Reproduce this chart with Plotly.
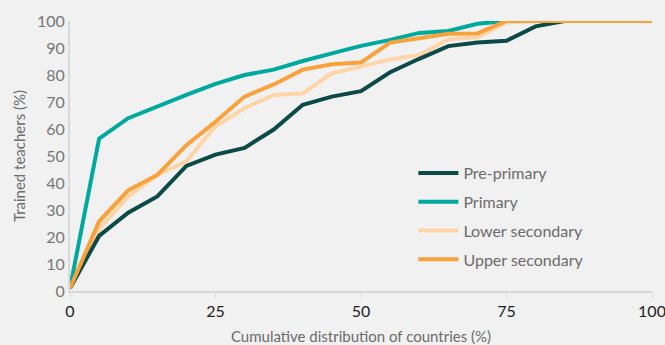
import plotly.graph_objects as go

x_vals = [0, 5, 10, 15, 20, 25, 30, 35, 40, 45, 50, 55, 60, 65, 70, 75, 80, 85, 90, 95, 100]

pre_primary = [1, 20.4, 29, 35, 46.3, 50.5, 53, 59.8, 69, 72, 74, 81, 86, 90.7, 92, 92.7, 98, 100, 100, 100, 100]
primary = [1, 56.4, 64, 68.5, 72.6, 76.7, 80, 82, 85.2, 88, 90.8, 93, 95.6, 96.3, 99, 100, 100, 100, 100, 100, 100]
lower_secondary = [1, 23, 35, 43, 48, 61, 67.7, 72.6, 73.2, 80.6, 83.1, 85.8, 87.4, 93.2, 94, 99.5, 100, 100, 100, 100, 100]
upper_secondary = [1, 25.8, 37.3, 43, 54, 62.7, 72, 76.5, 82, 84, 84.6, 92, 93.6, 95.3, 95.4, 100, 100, 100, 100, 100, 100]

series_names = ["Pre-primary", "Primary", "Lower secondary", "Upper secondary"]
series_values = [pre_primary, primary, lower_secondary, upper_secondary]
series_colors = ["#0b4a47", "#00a99d", "#ffd5a8", "#f9a13a"]

x_ticks = [0, 25, 50, 75, 100]
y_ticks = [0, 10, 20, 30, 40, 50, 60, 70, 80, 90, 100]

FONT = "Lato"
BG = "#f1f1f1"

fig = go.Figure()
draw_order = [2, 0, 1, 3]
for i in draw_order:
    fig.add_trace(go.Scatter(
        x=x_vals, y=series_values[i], name=series_names[i], mode="lines",
        line=dict(color=series_colors[i], width=4), cliponaxis=False,
        legendgroup=series_names[i], legendrank=i + 1,
    ))

fig.update_layout(
    width=665, height=345,
    margin=dict(l=70, r=13, t=21, b=54, autoexpand=False),
    paper_bgcolor=BG, plot_bgcolor=BG,
    font=dict(family=FONT, size=14, color="#6b6b6b"),
    showlegend=True,
    legend=dict(x=0.59, y=0.50, xanchor="left", yanchor="top",
                bgcolor="rgba(0,0,0,0)", font=dict(size=16, color="#6b6b6b"),
                tracegroupgap=5, traceorder="grouped", itemwidth=40),
    xaxis=dict(range=[0, 100], tickvals=x_ticks, ticks="outside", ticklen=5,
               tickcolor="#d9d9d9", showgrid=False, zeroline=False, automargin=False,
               showline=True, linecolor="#d9d9d9", linewidth=2,
               ticklabeloverflow="allow",
               tickfont=dict(size=16, color="#222222"),
               title=dict(text="Cumulative distribution of countries (%)", standoff=14,
                          font=dict(size=15, color="#6b6b6b"))),
    yaxis=dict(range=[0, 100], tickvals=y_ticks, showgrid=False, zeroline=False, automargin=False,
               showline=True, linecolor="#d9d9d9", linewidth=2, ticks="",
               tickfont=dict(size=16, color="#777777"),
               title=dict(text="Trained teachers (%)", standoff=8,
                          font=dict(size=15, color="#6b6b6b"))),
)

fig.write_html(
    "out.html",
    config={"displayModeBar": False},
    post_script="document.body.style.margin='0';document.body.style.background='" + BG + "';",
)
